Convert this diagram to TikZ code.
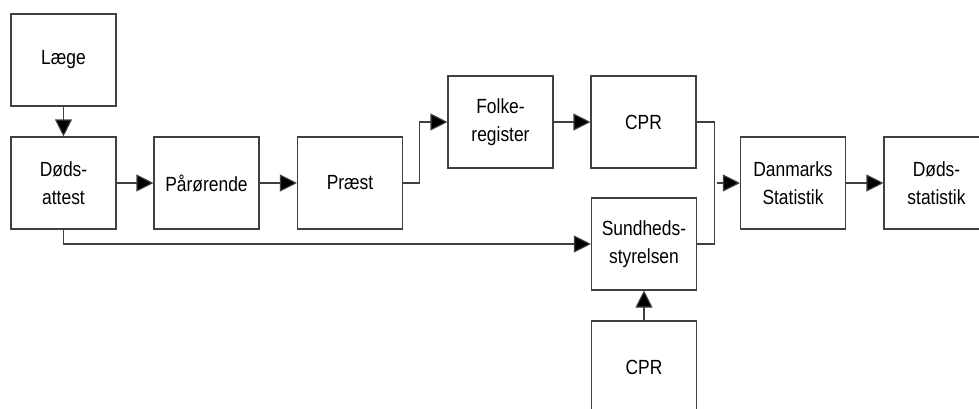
\documentclass[tikz,border=0pt]{standalone}
\usepackage{fontspec}
\setmainfont{Liberation Sans}[FakeStretch=0.85]
\usetikzlibrary{arrows.meta}
\begin{document}
\begin{tikzpicture}[x=1pt,y=-1pt,
  box/.style={draw=black!75,line width=1.1pt,minimum width=105pt,minimum height=92pt,inner sep=0pt,align=center,font=\fontsize{20.5}{28}\selectfont},
  conn/.style={draw=black!75,line width=1.1pt},
  arr/.style={conn,-{Triangle[length=17pt,width=17pt,fill=black]}}]
\useasboundingbox (0,0) rectangle (979,408);
\clip (0,0) rectangle (979,408);
\node[box] (laege) at (63.5,60) {Læge};
\node[box] (dodsattest) at (63.5,183) {Døds-\\attest};
\node[box] (parorende) at (206.5,183) {Pårørende};
\node[box] (praest) at (350,183) {Præst};
\node[box] (folke) at (500.5,122) {Folke-\\register};
\node[box] (cpr1) at (643.5,122) {CPR};
\node[box] (sund) at (644,244) {Sundheds-\\styrelsen};
\node[box] (cpr2) at (644,367) {CPR};
\node[box] (ds) at (793,183) {Danmarks\\Statistik};
\node[box] (dstat) at (936.5,183) {Døds-\\statistik};
\draw[arr] (laege) -- (dodsattest);
\draw[arr] (dodsattest) -- (parorende);
\draw[arr] (parorende) -- (praest);
\draw[arr] (praest.east) -- ++(16,0) |- (folke.west);
\draw[arr] (folke) -- (cpr1);
\path (cpr1.east) ++(18,0) coordinate (bus);
\coordinate (busmid) at (bus |- ds.west);
\draw[conn] (cpr1.east) -- (bus) |- (sund.east);
\draw[arr] ([xshift=2pt]busmid) -- (ds.west);
\draw[arr] (dodsattest.south) |- (sund.west);
\draw[arr] (cpr2) -- (sund);
\draw[arr] (ds) -- (dstat);
\end{tikzpicture}
\end{document}
